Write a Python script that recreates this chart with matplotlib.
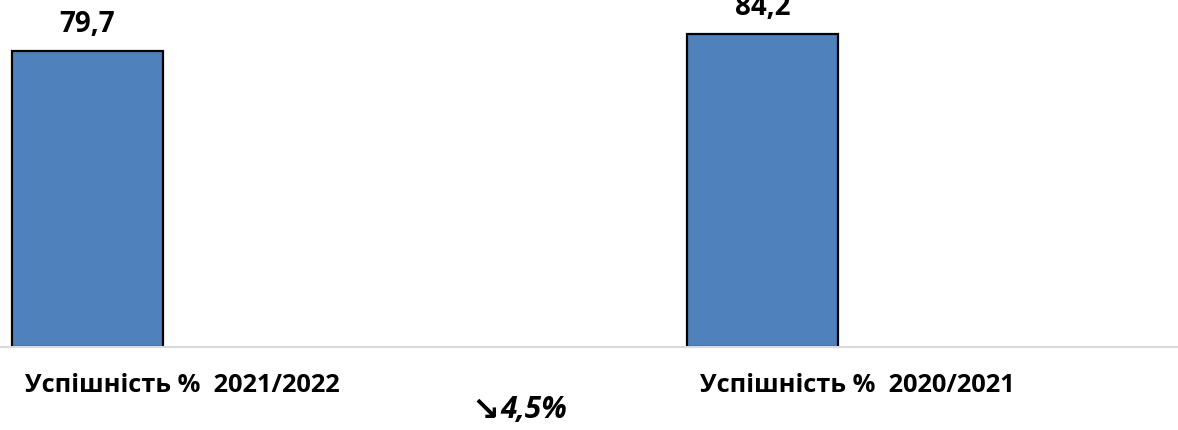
import matplotlib.pyplot as plt

categories = ['Успішність %  2021/2022', 'Успішність %  2020/2021']
values = [79.7, 84.2]
value_labels = ['79,7', '84,2']
change_arrow = '↘'
change_label = '4,5%'

fonts = ['Open Sans', 'DejaVu Sans']

fig = plt.figure(figsize=(11.78, 4.30), dpi=100)
ax = fig.add_axes([0, 83 / 430, 1, 347 / 430])

xs = list(range(len(categories)))
bar_x = [x - 0.14 for x in xs]
ax.bar(bar_x, values, width=0.224, color='#4F81BD', edgecolor='black', linewidth=1.6, zorder=2)

for bx, v, lab in zip(bar_x, values, value_labels):
    ax.annotate(lab, (bx, v), xytext=(0, 13.5), textcoords='offset points',
                ha='center', va='baseline', fontsize=20, fontweight='bold',
                family=fonts, annotation_clip=False, clip_on=False)

ax.set_xlim(-0.2696, 1.4756)
ax.set_ylim(0, 93.4)

ax.set_xticks(xs)
ax.set_xticklabels(categories, fontsize=18.3, fontweight='bold', family=fonts)
ax.tick_params(axis='x', length=0, pad=19)
ax.set_yticks([])

for s in ['top', 'right', 'left']:
    ax.spines[s].set_visible(False)
ax.spines['bottom'].set_color('#D9D9D9')
ax.spines['bottom'].set_linewidth(1.5)

fig.text(499 / 1178, 1 - 410 / 430, change_arrow, ha='right', va='center',
         fontsize=24, fontweight='bold', family=['DejaVu Sans'])
fig.text(500 / 1178, 1 - 410 / 430, change_label, ha='left', va='center',
         fontsize=21.5, fontweight='bold', fontstyle='italic', family=fonts)

fig.savefig('out.png', dpi=100)
